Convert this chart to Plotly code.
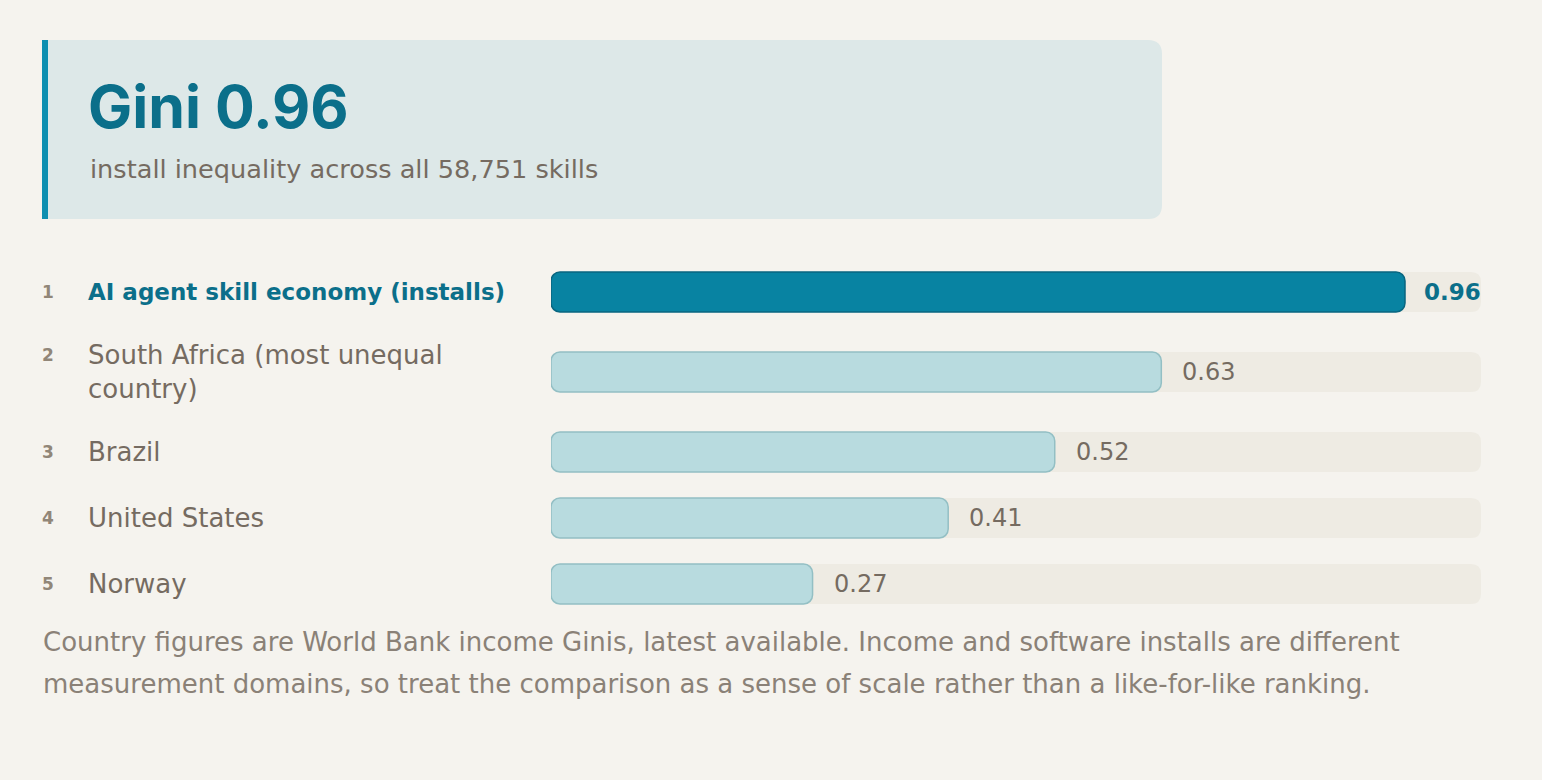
import plotly.graph_objects as go

# ---------------- data ----------------
ranks = [1, 2, 3, 4, 5]
label_lines = [
    ["AI agent skill economy (installs)"],
    ["South Africa (most unequal", "country)"],
    ["Brazil"],
    ["United States"],
    ["Norway"],
]
gini = [0.96, 0.63, 0.52, 0.41, 0.27]
value_text = ["0.96", "0.63", "0.52", "0.41", "0.27"]
title_text = "Gini 0.96"
subtitle_text = "install inequality across all 58,751 skills"
footnote_lines = [
    "Country figures are World Bank income Ginis, latest available. Income and software installs are different",
    "measurement domains, so treat the comparison as a sense of scale rather than a like-for-like ranking.",
]

# ---------------- layout constants (pixels) ----------------
W, H = 1542, 780
FONT = "DejaVu Sans"
TITLE_FONT = "Inter"
BG = "#f5f3ee"
TEAL = "#0b6f8a"
GRAY = "#756b61"
PLOT_L, PLOT_R = 551, 1481
ROWS_TOP, BAR_H, ROW_GAP, LINE_H = 272, 40, 26, 34
LEADER_ROOM_PX = 76

xmax = max(gini)
ppu = (PLOT_R - PLOT_L) / xmax


def px(x):
    return x / W


# row geometry from label line counts
centers, firsts = [], []
top = ROWS_TOP
for lines in label_lines:
    h = max(BAR_H, len(lines) * LINE_H)
    c = top + h / 2
    centers.append(c)
    firsts.append(c - (len(lines) - 1) * LINE_H / 2)
    top += h + ROW_GAP

room = LEADER_ROOM_PX / ppu
lead_idx = gini.index(xmax)
bar_len = [min(v, xmax - room) for v in gini]
colors = ["#0883a2" if i == lead_idx else "#b8dbdf" for i in range(len(gini))]
line_colors = ["#086680" if i == lead_idx else "#93bfc4" for i in range(len(gini))]


def rrect(x0, x1, y0, y1, rx, ry):
    return (f"M {x0+rx},{y0} L {x1-rx},{y0} Q {x1},{y0} {x1},{y0+ry} "
            f"L {x1},{y1-ry} Q {x1},{y1} {x1-rx},{y1} L {x0+rx},{y1} "
            f"Q {x0},{y1} {x0},{y1-ry} L {x0},{y0+ry} Q {x0},{y0} {x0+rx},{y0} Z")


fig = go.Figure()
fig.add_trace(go.Bar(
    x=bar_len, y=centers, base=0, orientation="h", width=BAR_H,
    marker=dict(color=colors, line=dict(color=line_colors, width=1.5), cornerradius=9),
    hoverinfo="skip", showlegend=False,
))

shapes = []
# card
cx0, cx1, cy0, cy1, cr = 42, 1162, 40, 219, 14
shapes.append(dict(
    type="path", xref="paper", yref="y", layer="below",
    path=(f"M {px(cx0)},{cy0} L {px(cx1-cr)},{cy0} Q {px(cx1)},{cy0} {px(cx1)},{cy0+cr} "
          f"L {px(cx1)},{cy1-cr} Q {px(cx1)},{cy1} {px(cx1-cr)},{cy1} L {px(cx0)},{cy1} Z"),
    fillcolor="#dde8e8", line=dict(width=0),
))
shapes.append(dict(type="rect", xref="paper", yref="y", layer="below",
                   x0=px(cx0), x1=px(cx0 + 6), y0=cy0, y1=cy1,
                   fillcolor="#0e8fb0", line=dict(width=0)))
# tracks
for c in centers:
    shapes.append(dict(type="path", xref="x", yref="y", layer="below",
                       path=rrect(0, xmax, c - BAR_H / 2, c + BAR_H / 2, 10 / ppu, 10),
                       fillcolor="#eeebe3", line=dict(width=0)))

ann = []
ann.append(dict(text=title_text, x=px(86), y=106, xref="paper", yref="y",
                xanchor="left", yanchor="middle", showarrow=False,
                font=dict(family=TITLE_FONT, size=59, color=TEAL, weight=700)))
ann.append(dict(text=subtitle_text, x=px(88), y=169, xref="paper", yref="y",
                xanchor="left", yanchor="middle", showarrow=False,
                font=dict(family=FONT, size=25.6, color=GRAY)))

for i, lines in enumerate(label_lines):
    lead = i == lead_idx
    ann.append(dict(text=str(ranks[i]), x=px(48), y=firsts[i], xref="paper", yref="y",
                    xanchor="center", yanchor="middle", showarrow=False,
                    font=dict(family=FONT, size=17, color="#918678", weight=700)))
    ann.append(dict(text="<br>".join(lines), x=px(86), y=centers[i], xref="paper", yref="y",
                    xanchor="left", yanchor="middle", align="left", showarrow=False,
                    font=dict(family=FONT, size=23 if lead else 26, color=TEAL if lead else GRAY,
                              weight=700 if lead else 400)))
    if lead:
        ann.append(dict(text=value_text[i], x=xmax, y=centers[i], xref="x", yref="y",
                        xanchor="right", yanchor="middle", showarrow=False, xshift=2,
                        font=dict(family=FONT, size=23, color=TEAL, weight=700)))
    else:
        ann.append(dict(text=value_text[i], x=bar_len[i], y=centers[i], xref="x", yref="y",
                        xanchor="left", yanchor="middle", showarrow=False, xshift=19,
                        font=dict(family=FONT, size=24, color=GRAY)))

for j, line in enumerate(footnote_lines):
    ann.append(dict(text=line, x=px(41), y=642 + j * 42, xref="paper", yref="y",
                    xanchor="left", yanchor="middle", showarrow=False,
                    font=dict(family=FONT, size=26, color="#8a8177")))

fig.update_layout(
    width=W, height=H, autosize=False,
    margin=dict(l=0, r=0, t=0, b=0, pad=0),
    paper_bgcolor=BG, plot_bgcolor=BG,
    xaxis=dict(domain=[PLOT_L / W, PLOT_R / W], range=[0, xmax], visible=False, fixedrange=True),
    yaxis=dict(domain=[0, 1], range=[H, 0], visible=False, fixedrange=True),
    shapes=shapes, annotations=ann,
    font=dict(family=FONT),
    showlegend=False,
)

fig.write_html("out.html", config={"displayModeBar": False},
               post_script="document.body.style.margin='0';document.body.style.overflow='hidden';")
